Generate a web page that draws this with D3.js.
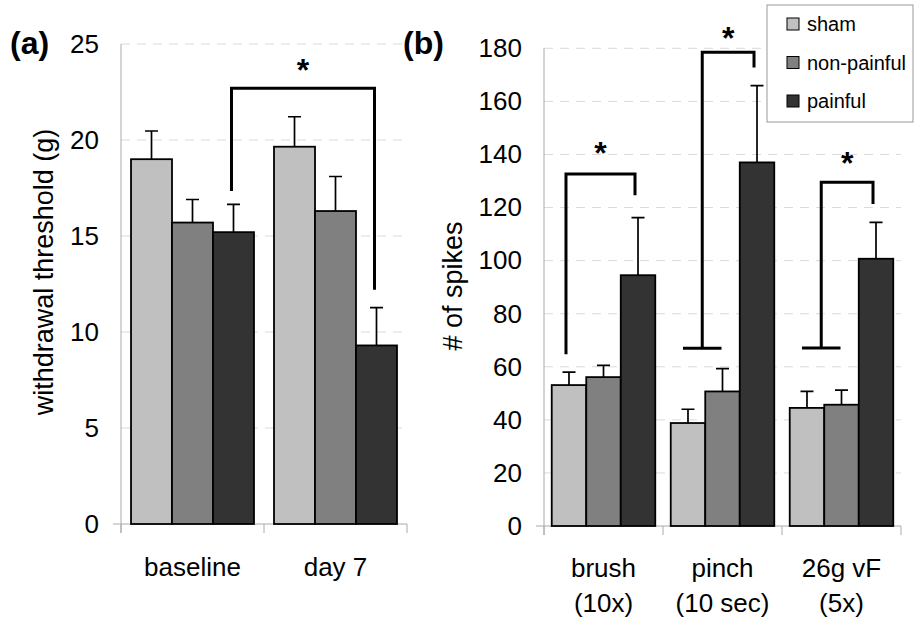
<!DOCTYPE html>
<html>
<head>
<meta charset="utf-8">
<script src="https://cdn.jsdelivr.net/npm/d3@7"></script>
<style>
body { margin: 0; background: #fff; }
text { font-family: "Liberation Sans", Arial, sans-serif; fill: #000; }
</style>
</head>
<body>
<svg id="fig" width="914" height="625"></svg>
<script>
const series = ["sham", "non-painful", "painful"];
const colors = ["#c0c0c0", "#808080", "#333333"];

// panel (a): withdrawal threshold
const aGroups = ["baseline", "day 7"];
const aMeans = [[19.0, 15.7, 15.2], [19.65, 16.3, 9.3]];
const aErrs = [[1.47, 1.2, 1.45], [1.56, 1.8, 1.97]];
const aTicks = [0, 5, 10, 15, 20, 25];
// [group, series, value] left leg, top value, right leg, star value
const aBrackets = [
    { left: [0, 2, 17.35], top: 22.7, right: [1, 2, 12.2], cap: false, star: 23.9 }
];

// panel (b): # of spikes
const bGroups = [["brush", "(10x)"], ["pinch", "(10 sec)"], ["26g vF", "(5x)"]];
const bMeans = [[53.1, 56.1, 94.5], [38.8, 50.7, 137.0], [44.5, 45.7, 100.7]];
const bErrs = [[4.9, 4.4, 21.7], [5.2, 8.6, 28.9], [6.2, 5.5, 13.7]];
const bTicks = [0, 20, 40, 60, 80, 100, 120, 140, 160, 180];
const bBrackets = [
    { left: [0, 0, 64.7], top: 132.6, right: [0, 2, 124.6], cap: false, star: 142.4 },
    { left: [1, 0.5, 67.0], top: 178.5, right: [1, 2, 172.8], cap: true, star: 185.8 },
    { left: [2, 0.5, 67.1], top: 129.5, right: [2, 2, 121.3], cap: true, star: 138.7 }
];

const svg = d3.select("#fig");
svg.append("rect").attr("width", 914).attr("height", 625).attr("fill", "#fff");

function bar_panel(svg, cfg) {
    const groups = cfg.groups.map((d, i) => i);
    const x0 = d3.scaleBand()
        .domain(groups)
        .range(cfg.xRange)
        .paddingInner(cfg.pad)
        .paddingOuter(cfg.pad / 2);
    const x1 = d3.scaleBand()
        .domain(series.map((d, i) => i))
        .range([0, x0.bandwidth()]);
    const y = d3.scaleLinear().domain(cfg.yDomain).range(cfg.yRange);
    const xPos = (g, s) => x0(g) + x1.step() * (s + 0.5) + cfg.shift;

    const G = svg.append("g");
    const [xl, xr] = cfg.xRange;
    const y0 = y(0);

    // dashed grid
    G.selectAll(".grid")
        .data(cfg.ticks.filter(t => t > 0))
        .join("line")
        .attr("x1", xl).attr("x2", xr)
        .attr("y1", d => y(d)).attr("y2", d => y(d))
        .attr("stroke", "#dadada")
        .attr("stroke-dasharray", "9,7");

    // axes lines
    G.append("line")
        .attr("x1", xl).attr("x2", xl)
        .attr("y1", y(cfg.yDomain[1])).attr("y2", y0 + 9)
        .attr("stroke", "#aaa");
    G.append("line")
        .attr("x1", xl - 8).attr("x2", xr)
        .attr("y1", y0).attr("y2", y0)
        .attr("stroke", "#aaa");
    G.selectAll(".xtick")
        .data(d3.range(groups.length + 1))
        .join("line")
        .attr("x1", i => xl + i * x0.step()).attr("x2", i => xl + i * x0.step())
        .attr("y1", y0).attr("y2", y0 + 9)
        .attr("stroke", "#aaa");

    // y tick labels
    const yAxis = d3.axisLeft(y).tickValues(cfg.ticks).tickSize(0).tickPadding(22);
    const ya = G.append("g").attr("transform", `translate(${xl},0)`).call(yAxis);
    ya.select(".domain").remove();
    ya.selectAll("text")
        .attr("font-size", 26)
        .attr("font-family", "Liberation Sans, Arial, sans-serif")
        .attr("fill", "#000");

    // bars
    const cells = [];
    cfg.means.forEach((row, g) => row.forEach((v, s) => cells.push({ g, s, v, e: cfg.errs[g][s] })));

    G.selectAll(".err")
        .data(cells)
        .join("path")
        .attr("d", d => {
            const cx = x0(d.g) + x1(d.s) + x1.bandwidth() / 2;
            const top = y(d.v + d.e);
            return `M${cx},${y(d.v)}V${top}M${cx - 6.5},${top}H${cx + 6.5}`;
        })
        .attr("stroke", "#000")
        .attr("stroke-width", 1.7)
        .attr("fill", "none");

    G.selectAll(".bar")
        .data(cells)
        .join("rect")
        .attr("x", d => x0(d.g) + x1(d.s))
        .attr("y", d => y(d.v))
        .attr("width", x1.bandwidth())
        .attr("height", d => y0 - y(d.v))
        .attr("fill", d => colors[d.s])
        .attr("stroke", "#000")
        .attr("stroke-width", 1.8);

    // category labels
    const lab = G.selectAll(".xlab")
        .data(cfg.groups)
        .join("text")
        .attr("text-anchor", "middle")
        .attr("font-size", 26)
        .attr("x", (d, i) => x0(i) + x0.bandwidth() / 2)
        .attr("y", cfg.labelY);
    lab.selectAll("tspan")
        .data((d, i) => [].concat(d).map(t => ({ t, i })))
        .join("tspan")
        .attr("x", d => x0(d.i) + x0.bandwidth() / 2)
        .attr("dy", (d, j) => j === 0 ? 0 : 35)
        .text(d => d.t);

    // significance brackets
    cfg.brackets.forEach(b => {
        const lx = xPos(b.left[0], b.left[1]);
        const rx = xPos(b.right[0], b.right[1]);
        const ty = y(b.top);
        G.append("path")
            .attr("d", `M${lx},${y(b.left[2])}V${ty}H${rx}V${y(b.right[2])}`)
            .attr("stroke", "#000")
            .attr("stroke-width", 3)
            .attr("fill", "none");
        if (b.cap) {
            const g = b.left[0];
            G.append("line")
                .attr("x1", xPos(g, 0) - 2).attr("x2", xPos(g, 1) + 2)
                .attr("y1", y(b.left[2])).attr("y2", y(b.left[2]))
                .attr("stroke", "#000")
                .attr("stroke-width", 3);
        }
        G.append("text")
            .attr("x", (lx + rx) / 2)
            .attr("y", y(b.star))
            .attr("dy", "0.5em")
            .attr("text-anchor", "middle")
            .attr("font-size", 32)
            .attr("font-weight", "bold")
            .text("*");
    });

    // axis title
    G.append("text")
        .attr("transform", `translate(${cfg.titlePos[0]},${cfg.titlePos[1]}) rotate(-90)`)
        .attr("text-anchor", "middle")
        .attr("font-size", 27)
        .text(cfg.title);

    // panel letter
    G.append("text")
        .attr("x", cfg.letterX)
        .attr("y", 54)
        .attr("font-size", 32)
        .attr("font-weight", "bold")
        .text(cfg.letter);
}

bar_panel(svg, {
    groups: aGroups, means: aMeans, errs: aErrs, ticks: aTicks, brackets: aBrackets,
    xRange: [121, 407], yDomain: [0, 25], yRange: [524, 44], pad: 0.14, shift: -2,
    labelY: 576, title: "withdrawal threshold (g)", titlePos: [53, 272],
    letter: "(a)", letterX: 10
});

bar_panel(svg, {
    groups: bGroups, means: bMeans, errs: bErrs, ticks: bTicks, brackets: bBrackets,
    xRange: [544, 901], yDomain: [0, 180], yRange: [526, 48.3], pad: 0.13, shift: -3,
    labelY: 577, title: "# of spikes", titlePos: [462, 286],
    letter: "(b)", letterX: 403
});

// legend
const legend = svg.append("g");
legend.append("rect")
    .attr("x", 767).attr("y", 5)
    .attr("width", 146).attr("height", 117)
    .attr("fill", "#fff")
    .attr("stroke", "#999");

const items = legend.selectAll(".item")
    .data(series)
    .join("g")
    .attr("transform", (d, i) => `translate(787, ${24 + i * 38.5})`);

items.append("rect")
    .attr("y", -6)
    .attr("width", 12).attr("height", 12)
    .attr("fill", (d, i) => colors[i])
    .attr("stroke", "#000");

items.append("text")
    .text(d => d)
    .attr("x", 20)
    .attr("dy", "0.35em")
    .attr("font-size", 20);
</script>
</body>
</html>
